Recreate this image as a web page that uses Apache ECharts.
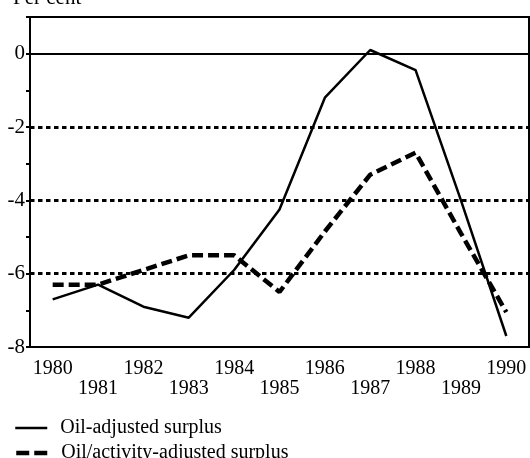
<!DOCTYPE html>
<html>
<head>
<meta charset="utf-8">
<style>
  html, body { margin: 0; padding: 0; background: #fff; }
  #chart { width: 530px; height: 458px; }
</style>
<script src="https://cdn.jsdelivr.net/npm/echarts@6/dist/echarts.min.js"></script>
</head>
<body>
<div id="chart"></div>
<script>
// years on the x axis
const years = ['1980', '1981', '1982', '1983', '1984', '1985', '1986', '1987', '1988', '1989', '1990']
// per cent of GDP
const oilAdjusted = [-6.7, -6.3, -6.9, -7.2, -5.9, -4.25, -1.2, 0.1, -0.45, -4.0, -7.7]
const oilActivityAdjusted = [-6.3, -6.3, -5.9, -5.5, -5.5, -6.5, -4.85, -3.3, -2.7, -4.9, -7.05]
const seriesNames = ['Oil-adjusted surplus', 'Oil/activity-adjusted surplus']
const gridLevels = [-2, -4, -6]
const zeroLevel = 0

const font = 'Liberation Serif'
const chart = echarts.init(document.getElementById('chart'))

const marks = gridLevels.map(v => ({
  yAxis: v,
  lineStyle: { color: '#000', width: 3, type: [4.5, 3.5] }
}))
marks.push({ yAxis: zeroLevel, lineStyle: { color: '#000', width: 2, type: 'solid' } })

// one legend per row so they stack like the original key
const legendRow = (name, top, lineStyle) => ({
  orient: 'vertical',
  left: 14,
  top: top,
  padding: 0,
  itemWidth: 32,
  itemHeight: 14,
  itemStyle: { color: 'rgba(0,0,0,0)', borderWidth: 0, opacity: 0 },
  lineStyle: lineStyle,
  textStyle: { color: '#000', fontFamily: font, fontSize: 20, padding: [0, 0, 0, 8] },
  data: [name]
})

chart.setOption({
  animation: false,
  backgroundColor: '#fff',
  grid: {
    left: 30,
    right: 1,
    top: 17,
    bottom: 111,
    show: true,
    borderColor: '#000',
    borderWidth: 2
  },
  graphic: [{
    type: 'text',
    left: 13,
    top: -12,
    style: { text: 'Per cent', fill: '#000', font: '21px "Liberation Serif"' }
  }],
  xAxis: {
    type: 'category',
    data: years,
    boundaryGap: true,
    axisLine: { lineStyle: { color: '#000', width: 2 } },
    axisTick: { alignWithLabel: true, interval: 0, length: 5, lineStyle: { color: '#000', width: 2 } },
    axisLabel: {
      interval: 0,
      margin: 12,
      color: '#000',
      fontFamily: font,
      fontSize: 20,
      lineHeight: 20,
      formatter: (v, i) => (i % 2 ? '\n' + v : v)
    },
    splitLine: { show: false }
  },
  yAxis: {
    type: 'value',
    min: -8,
    max: 1,
    interval: 1,
    axisLine: { show: true, lineStyle: { color: '#000', width: 2 } },
    axisTick: { show: true, length: 4, lineStyle: { color: '#000', width: 2 } },
    axisLabel: {
      margin: 5,
      color: '#000',
      fontFamily: font,
      fontSize: 21,
      formatter: v => (v % 2 === 0 && v <= 0 ? String(v) : '')
    },
    splitLine: { show: false }
  },
  legend: [
    legendRow(seriesNames[0], 418, { width: 2.5, type: 'solid' }),
    legendRow(seriesNames[1], 443, { width: 4.5, type: [13, 5] })
  ],
  series: [
    {
      name: seriesNames[0],
      type: 'line',
      data: oilAdjusted,
      symbol: 'none',
      itemStyle: { color: '#000' },
      lineStyle: { color: '#000', width: 2.5 },
      z: 3,
      markLine: {
        silent: true,
        symbol: 'none',
        label: { show: false },
        data: marks
      }
    },
    {
      name: seriesNames[1],
      type: 'line',
      data: oilActivityAdjusted,
      symbol: 'none',
      itemStyle: { color: '#000' },
      lineStyle: { color: '#000', width: 4.5, type: [11, 5] },
      z: 3
    }
  ]
})
</script>
</body>
</html>
